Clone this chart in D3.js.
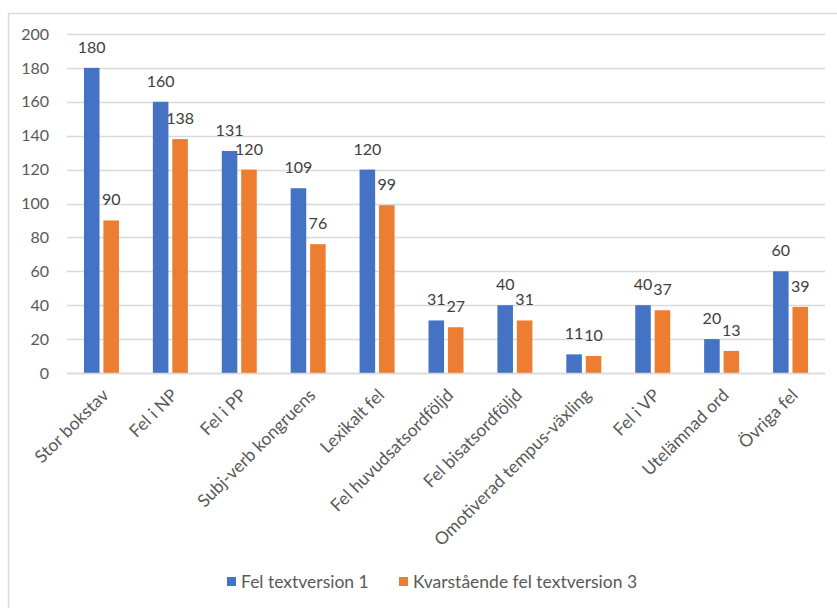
<!DOCTYPE html>
<html>
<head>
<meta charset="utf-8">
<script src="https://cdn.jsdelivr.net/npm/d3@7"></script>
<style>
  html, body { margin: 0; padding: 0; background: #fff; }
  svg { display: block; }
  text { font-family: Lato, "Open Sans", "Liberation Sans", sans-serif; }
</style>
</head>
<body>
<svg id="chart" width="837" height="608"></svg>
<script>
// Error categories (Swedish), counts per text version
const categories = [
  "Stor bokstav", "Fel i NP", "Fel i PP", "Subj-verb kongruens", "Lexikalt fel",
  "Fel huvudsatsordföljd", "Fel bisatsordföljd", "Omotiverad tempus-växling",
  "Fel i VP", "Utelämnad ord", "Övriga fel"
];
const seriesNames = ["Fel textversion 1", "Kvarstående fel textversion 3"];
const version1 = [180, 160, 131, 109, 120, 31, 40, 11, 40, 20, 60];
const version3 = [90, 138, 120, 76, 99, 27, 31, 10, 37, 13, 39];
const yTicks = [0, 20, 40, 60, 80, 100, 120, 140, 160, 180, 200];
const colors = ["#4472C4", "#ED7D31"];

const svg = d3.select("#chart");
const plotLeft = 67, plotRight = 825, plotTop = 34, plotBottom = 373;

// Chart area frame
svg.append("rect")
  .attr("x", 8.5).attr("y", 13.5)
  .attr("width", 850).attr("height", 620)
  .attr("fill", "#fff").attr("stroke", "#d9d9d9").attr("stroke-width", 1.5);

const x0 = d3.scaleBand().domain(categories).range([plotLeft, plotRight]).paddingInner(0).paddingOuter(0);
const x1 = d3.scaleBand().domain(seriesNames)
  .range([x0.bandwidth() / 2 - 17.5, x0.bandwidth() / 2 + 17.5]).paddingInner(0.2);
const y = d3.scaleLinear().domain([0, 200]).range([plotBottom, plotTop]);

// Gridlines
svg.append("g").selectAll("line").data(yTicks).join("line")
  .attr("x1", plotLeft).attr("x2", plotRight)
  .attr("y1", d => Math.round(y(d)) + 0.5).attr("y2", d => Math.round(y(d)) + 0.5)
  .attr("stroke", "#d9d9d9").attr("stroke-width", 1.3);

// Y axis labels
const yAxis = d3.axisLeft(y).tickValues(yTicks).tickSize(0).tickPadding(0);
const gy = svg.append("g").attr("transform", `translate(${plotLeft - 18},0)`).call(yAxis);
gy.select(".domain").remove();
gy.selectAll("text").attr("fill", "#595959").style("font-size", "16px")
  .style("font-family", "Lato, 'Open Sans', sans-serif");

// Bars and value labels
const series = [version1, version3];
const groups = svg.append("g").selectAll("g").data(categories).join("g")
  .attr("transform", d => `translate(${x0(d)},0)`);

groups.each(function(cat, i) {
  const g = d3.select(this);
  seriesNames.forEach((s, k) => {
    const v = series[k][i];
    g.append("rect")
      .attr("x", x1(s)).attr("width", x1.bandwidth())
      .attr("y", y(v)).attr("height", y(0) - y(v))
      .attr("fill", colors[k]);
    g.append("text")
      .attr("x", x1(s) + x1.bandwidth() / 2)
      .attr("y", y(v) - 15)
      .attr("text-anchor", "middle")
      .attr("fill", "#404040")
      .style("font-size", "16px")
      .text(v);
  });
});

// Baseline
svg.append("line")
  .attr("x1", plotLeft).attr("x2", plotRight)
  .attr("y1", Math.round(y(0)) + 0.5).attr("y2", Math.round(y(0)) + 0.5)
  .attr("stroke", "#d9d9d9").attr("stroke-width", 1.3);

// Category labels, rotated
const xAxis = d3.axisBottom(x0).tickSize(0).tickPadding(0);
const gx = svg.append("g").attr("transform", `translate(0,${plotBottom})`).call(xAxis);
gx.select(".domain").remove();
gx.selectAll("text")
  .attr("fill", "#595959")
  .style("font-size", "17.5px")
  .style("font-family", "Lato, 'Open Sans', sans-serif")
  .attr("text-anchor", "end")
  .attr("dy", "0.35em")
  .attr("transform", "translate(4,19) rotate(-45)");

// Legend
const legendItems = [
  { name: seriesNames[0], color: colors[0], x: 227 },
  { name: seriesNames[1], color: colors[1], x: 399 }
];
const lg = svg.append("g");
legendItems.forEach(it => {
  lg.append("rect").attr("x", it.x).attr("y", 577).attr("width", 9).attr("height", 9).attr("fill", it.color);
  lg.append("text").attr("x", it.x + 14).attr("y", 582).attr("dy", "0.35em")
    .attr("fill", "#595959").style("font-size", "17.5px").text(it.name);
});
</script>
</body>
</html>
